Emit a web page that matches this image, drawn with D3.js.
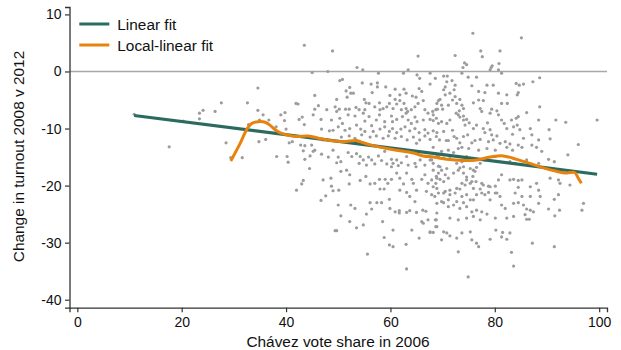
<!DOCTYPE html>
<html>
<head>
<meta charset="utf-8">
<script src="https://cdn.jsdelivr.net/npm/d3@7"></script>
<style>
  html, body { margin: 0; padding: 0; background: #fff; }
  svg { display: block; font-family: "Liberation Sans", Arial, Helvetica, sans-serif; }
</style>
</head>
<body>
<svg id="chart" width="621" height="350"></svg>
<script>
// Municipalities: Chávez vote share in 2006 (x) vs change in turnout 2008 v 2012 (y)
const pts = [
  [10.9,-7.5],[17.6,-13.2],[20.3,-8.7],[23.4,-7.3],[24.1,-6.8],[23.4,-8.3],[26.4,-7.0],[27.6,-5.5],[28.5,-12.5],[29.4,-15.1],
  [31.6,-15.1],[32.6,-5.5],[34.6,-2.9],[34.6,-6.8],[35.6,-7.6],[36.7,-8.5],[32.8,-9.3],[34.8,-12.3],[36.1,-11.9],[34.9,-8.5],
  [43.5,4.6],[48.9,3.6],[45.0,-0.2],[48.0,0.0],[65.3,2.7],[45.5,-4.2],[41.9,-5.6],[42.3,-5.7],[46.2,-6.0],[45.5,-6.6],
  [47.8,-6.7],[39.0,-7.6],[39.8,-7.2],[43.1,-8.0],[42.5,-8.4],[46.7,-8.4],[45.2,-7.6],[39.7,-8.6],[38.1,-9.7],[40.0,-10.1],
  [43.5,-9.3],[46.8,-10.1],[48.3,-10.4],[40.6,-12.5],[41.2,-12.3],[43.6,-13.0],[42.8,-12.9],[44.9,-12.9],[45.5,-13.8],[47.1,-12.0],
  [53.6,0.7],[54.7,0.3],[57.7,-0.3],[62.5,-0.3],[63.4,0.3],[65.1,-0.6],[65.6,-1.2],[67.6,-0.3],
  [50.3,-1.6],[50.8,-1.4],[54.6,-2.0],[56.3,-2.2],[57.5,-2.0],[57.5,-2.7],[52.2,-2.8],[51.5,-3.4],[52.4,-3.8],[52.9,-3.8],
  [51.7,-4.5],[59.1,-2.7],[60.9,-3.1],[62.6,-3.1],[67.6,-2.2],[65.5,-3.0],[66.0,-3.5],[56.5,-3.7],[59.9,-4.2],[60.9,-4.9],
  [61.8,-4.1],[63.0,-3.8],[64.2,-4.3],[64.9,-4.5],[66.3,-5.1],[49.7,-4.9],[69.2,-5.1],[55.0,-4.9],[55.3,-5.5],
  [49.4,-6.2],[50.2,-6.6],[49.7,-7.0],[51.4,-6.6],[52.1,-6.6],[53.4,-6.3],[54.0,-6.7],[55.1,-6.7],[55.9,-5.6],[57.0,-6.2],
  [57.9,-5.5],[58.0,-6.7],[58.6,-6.5],[59.3,-6.2],[59.8,-5.6],[60.5,-6.5],[61.2,-5.7],[61.8,-5.1],[62.6,-5.6],[63.0,-6.5],
  [63.3,-7.0],[64.0,-6.7],[64.7,-6.2],[65.3,-5.6],[66.6,-6.7],[67.2,-7.3],[68.2,-7.6],[68.7,-6.7],[62.1,-6.7],[63.0,-7.3],
  [48.7,-8.5],[50.3,-8.2],[50.8,-9.1],[51.9,-7.6],[53.2,-7.8],[54.8,-7.3],[55.1,-8.7],[55.9,-7.9],[57.3,-8.5],[57.9,-7.6],
  [58.9,-8.8],[60.2,-7.8],[60.4,-8.8],[61.2,-8.4],[62.3,-7.9],[63.4,-8.5],[64.7,-8.0],[65.1,-8.8],[66.3,-8.5],[67.6,-8.4],
  [68.8,-8.2],[64.0,-9.1],
  [49.0,-10.3],[50.0,-9.7],[51.3,-10.3],[52.2,-10.0],[53.5,-9.4],[54.3,-10.1],[55.1,-10.5],[56.4,-9.5],[56.7,-10.5],[58.0,-10.1],
  [58.9,-9.7],[59.8,-10.5],[60.4,-10.0],[61.2,-10.7],[62.0,-10.1],[62.8,-9.7],[63.7,-10.4],[64.7,-10.0],[65.5,-10.7],[66.6,-10.2],
  [67.2,-10.8],[68.2,-10.4],
  [50.6,-11.5],[52.1,-11.3],[53.2,-11.7],[54.5,-11.1],[56.1,-11.5],[57.3,-11.3],[58.6,-11.7],[59.6,-11.3],[60.9,-11.7],[62.1,-11.4],
  [63.2,-12.0],[64.4,-11.5],[65.6,-12.0],[66.6,-11.3],[67.6,-11.9],[68.8,-11.4],[65.0,-12.6],[49.0,-13.8],[58.9,-14.0],
  [75.8,6.7],[85.1,5.9],[72.4,2.8],[77.3,3.6],[77.6,2.6],[81.0,3.6],[88.6,-1.1],[88.6,-6.2],[91.7,-8.5],[93.6,-8.9],
  [99.6,-8.5],[90.4,-10.2],[90.6,-11.8],[96.0,-12.8],
  [73.9,0.7],[74.2,1.5],[74.6,1.2],[79.3,0.7],[79.5,1.0],[80.8,1.4],[73.7,-0.3],[79.1,0.3],[81.3,-0.3],[80.7,0.3],
  [68.6,-1.2],[70.2,-0.8],[70.9,-0.8],[71.8,-1.6],[70.8,-1.8],[72.4,-2.4],[72.2,-3.2],[70.5,-2.7],[70.2,-3.2],[70.5,-4.1],
  [69.5,-4.9],[68.9,-5.6],[69.8,-5.9],[68.1,-7.0],[69.0,-6.6],[70.0,-6.6],[71.1,-5.9],[71.9,-5.0],[72.7,-5.6],[73.3,-4.9],
  [73.7,-5.9],[74.0,-6.5],[73.2,-6.9],[72.6,-7.3],[73.3,-8.0],[74.0,-7.8],[74.0,-8.5],[74.6,-8.4],[75.1,-9.0],[75.9,-5.5],
  [76.9,-5.0],[77.2,-6.5],[77.5,-7.0],[77.8,-5.1],[78.1,-3.7],[76.9,-3.5],[75.6,-2.5],[74.9,-1.0],[76.5,-1.0],[78.5,-2.4],
  [79.7,-2.4],[80.7,-3.8],[81.3,-5.6],[82.4,-5.6],[84.1,-2.1],[84.7,-2.4],[84.5,-3.7],[84.3,-4.1],[85.5,-2.2],[87.3,-1.8],
  [82.3,-4.1],[78.6,-9.0],[79.1,-7.3],[79.4,-6.6],[80.4,-6.9],[80.7,-7.6],[81.3,-8.5],[81.8,-9.1],[83.2,-8.5],[84.1,-8.2],
  [84.5,-7.9],[84.3,-9.4],[83.6,-9.7],[82.3,-10.0],[83.4,-11.0],[84.8,-10.2],[86.1,-7.2],[86.8,-10.0],[88.4,-8.5],[87.1,-11.1],
  [88.4,-12.0],[85.5,-11.7],[87.1,-12.9],[88.0,-13.3],
  [68.2,-8.6],[69.2,-9.1],[69.8,-8.8],[70.2,-10.5],[68.9,-10.7],[69.4,-12.0],[70.7,-12.1],[71.1,-12.1],[71.9,-10.3],[72.2,-11.4],
  [72.7,-11.7],[73.3,-12.5],[73.7,-13.3],[73.0,-13.5],[74.0,-11.4],[74.8,-11.1],[75.6,-12.5],[76.2,-12.1],[77.2,-11.9],[77.8,-10.0],
  [78.1,-10.7],[79.1,-10.2],[79.4,-11.1],[79.7,-12.0],[78.8,-12.3],[80.4,-11.3],[81.0,-12.6],[82.0,-12.3],[82.9,-12.7],[75.0,-13.5],
  [76.9,-13.8],[78.5,-13.5],[80.1,-13.8],[82.3,-13.3],[83.4,-13.8],[84.5,-12.9],[85.2,-13.3],[68.2,-13.3],[69.8,-14.0],[71.1,-13.8],
  [72.1,-14.2],[72.4,-4.4],[71.4,-3.8],[73.0,-7.6],[71.4,-8.5],[70.8,-9.1],[74.3,-9.4],[75.9,-10.0],[76.5,-9.4],
  [38.2,-14.9],[40.2,-14.9],[40.4,-15.9],[43.3,-13.9],[43.6,-15.4],[44.6,-14.8],[45.2,-14.0],[46.8,-14.5],[48.1,-15.0],[50.0,-15.0],
  [49.7,-16.0],[50.5,-15.8],[51.9,-14.2],[52.6,-14.9],[53.5,-14.4],[54.2,-14.9],[54.0,-16.1],[54.8,-15.5],[55.8,-15.0],[55.4,-16.4],
  [56.4,-15.5],[57.0,-16.2],[57.7,-14.8],[58.3,-15.6],[59.3,-16.2],[60.2,-15.4],[60.5,-16.1],[61.2,-15.5],[61.5,-16.5],[60.2,-16.7],
  [62.1,-16.0],[63.1,-14.9],[63.4,-16.4],[64.7,-16.1],[64.9,-16.7],[65.7,-15.5],[66.6,-16.4],[67.6,-15.5],[68.2,-16.1],[69.2,-14.9],
  [44.5,-17.0],[50.5,-17.5],[51.6,-17.3],[52.2,-18.1],[47.1,-19.0],[48.6,-18.7],[43.3,-19.1],[43.0,-19.7],[42.0,-20.8],[48.7,-20.1],
  [49.0,-20.9],[50.1,-20.8],[46.7,-22.6],[47.6,-21.8],[52.1,-19.7],[54.2,-19.1],[55.3,-18.4],[56.1,-19.7],[57.0,-19.6],[57.9,-18.9],
  [59.0,-18.9],[59.5,-19.6],[58.0,-20.6],[58.8,-20.6],[60.2,-18.9],[61.2,-17.8],[61.8,-18.7],[62.5,-19.7],[61.8,-20.8],[63.1,-17.8],
  [64.1,-18.9],[64.4,-19.6],[65.0,-20.8],[66.0,-18.9],[66.6,-18.1],[67.2,-19.6],[66.9,-21.0],[68.2,-20.2],[68.8,-18.4],[68.5,-21.9],
  [63.1,-21.2],[63.7,-21.9],[64.7,-22.8],[50.0,-23.4],[52.4,-23.4],[53.2,-24.0],[56.1,-23.0],[57.4,-23.0],[58.3,-23.0],[59.8,-22.4],
  [59.9,-24.0],[60.9,-24.6],[61.7,-24.4],[61.7,-24.8],[63.1,-24.7],[63.7,-24.4],[65.0,-24.7],[66.2,-24.3],[66.8,-24.5],[67.2,-26.0],
  [66.0,-26.3],[66.3,-26.6],[68.8,-26.0],[55.4,-25.0],[56.4,-24.1],[50.5,-25.3],[52.2,-26.3],[53.5,-27.4],[54.8,-26.9],[49.4,-27.9],
  [49.7,-27.9],[58.5,-26.3],[60.5,-27.8],[58.8,-29.1],[59.8,-30.4],[60.5,-30.7],[63.0,-30.3],[64.1,-27.8],[65.5,-29.2],[67.6,-28.2],
  [68.2,-28.2],[68.7,-27.2],[55.6,-32.0],[63.1,-34.6],
  [67.9,-15.5],[68.9,-14.6],[70.2,-15.2],[71.4,-14.9],[73.7,-15.8],[74.6,-14.9],[75.9,-15.5],[77.2,-16.1],[78.1,-15.5],[80.1,-14.9],
  [82.9,-15.8],[83.9,-16.1],[86.1,-15.5],[88.4,-16.1],[89.0,-14.0],[90.3,-15.4],[91.4,-15.8],[94.0,-14.6],[68.2,-17.3],[69.2,-17.8],
  [69.5,-16.7],[70.8,-17.0],[70.5,-18.1],[68.9,-18.7],[67.9,-19.0],[70.2,-19.3],[71.1,-18.7],[72.1,-17.8],[73.0,-17.3],[74.0,-16.7],
  [75.3,-17.0],[76.2,-17.5],[75.8,-18.4],[74.6,-19.0],[73.7,-19.6],[72.7,-20.5],[71.4,-20.8],[70.2,-21.3],[68.9,-20.5],[67.9,-21.6],
  [75.3,-19.6],[76.4,-19.3],[77.5,-19.6],[78.8,-20.1],[80.1,-20.1],[80.7,-19.0],[81.3,-18.1],[82.9,-19.0],[83.6,-18.9],[84.5,-19.1],
  [85.2,-19.0],[84.5,-20.3],[83.9,-21.3],[85.2,-21.9],[86.8,-20.2],[88.0,-19.6],[88.4,-20.8],[86.8,-21.9],[88.7,-21.9],[88.4,-23.1],
  [90.6,-18.7],[92.2,-19.0],[92.5,-19.6],[94.4,-19.9],[92.2,-21.6],[91.4,-22.4],[92.4,-24.3],[91.5,-25.3],[90.3,-24.1],[97.0,-23.1],
  [96.7,-24.3],[72.4,-21.3],[73.7,-21.9],[74.6,-21.6],[75.9,-22.5],[77.5,-21.3],[78.8,-21.2],[80.1,-21.3],[79.1,-22.5],[81.0,-21.9],
  [81.3,-23.4],[82.0,-24.0],[83.6,-23.1],[84.5,-23.0],[85.5,-23.4],[86.1,-24.1],[86.8,-24.3],[87.4,-24.6],[85.8,-25.1],[86.1,-25.9],
  [86.6,-25.9],[83.6,-25.4],[82.3,-25.7],[80.1,-25.7],[68.9,-23.1],[70.2,-23.0],[71.1,-23.7],[72.1,-23.4],[73.3,-24.0],[74.6,-23.7],
  [75.6,-24.6],[76.5,-24.3],[77.5,-24.6],[78.5,-25.0],[77.2,-26.0],[75.9,-25.4],[74.6,-25.7],[73.0,-26.0],[71.4,-25.7],[68.9,-24.8],
  [68.6,-26.0],[68.9,-27.2],[70.2,-28.1],[70.8,-28.3],[71.4,-28.8],[69.8,-29.5],[72.7,-29.2],[73.7,-28.3],[75.3,-28.1],[75.6,-29.5],
  [76.9,-30.7],[76.5,-30.1],[79.1,-29.4],[80.2,-27.8],[81.5,-28.2],[81.3,-29.0],[82.3,-29.4],[82.9,-28.3],[83.2,-31.7],[83.6,-34.1],
  [73.0,-31.6],[74.9,-36.0],[87.2,-30.1],[91.4,-30.7],[67.6,-28.1],
  [69.2,-16.6],[69.8,-17.3],[69.5,-18.9],[68.7,-19.6],[72.7,-16.1],[73.3,-16.9],[74.0,-17.8],[74.6,-18.5],[75.9,-17.3],[76.5,-16.8],
  [75.6,-19.3],[74.3,-19.9],[73.3,-20.6],[71.4,-21.6],[70.5,-21.0],[69.2,-21.3],[75.9,-20.5],[77.2,-20.6],[77.8,-19.9],[79.1,-20.2],
  [80.4,-21.3],[78.1,-21.6],[76.5,-21.6],[75.3,-22.5],[74.0,-23.0],[72.7,-22.8],[71.1,-22.5],[69.8,-22.8]
];
const shareX = pts.map(d => d[0]);
const turnoutY = pts.map(d => d[1]);

// Linear fit end points
const linX = [10.9, 99.6];
const linY = [-7.7, -18.0];

// Local-linear (lowess-type) fit
const locX = [29.4,31.2,32.5,33.4,34.7,36.0,36.9,37.9,38.8,40.1,42.0,44.3,46.2,48.4,51.0,53.5,54.8,56.7,59.3,61.8,
              64.4,66.3,68.2,70.8,73.9,76.5,79.1,81.6,84.2,86.7,89.3,91.8,93.8,95.3,96.0,96.6];
const locY = [-15.7,-12.6,-10.1,-9.1,-8.8,-8.9,-9.4,-10.2,-10.7,-11.1,-11.4,-11.3,-11.7,-12.1,-12.3,-12.1,-12.5,-13.0,-13.5,-13.9,
              -14.3,-14.8,-15.0,-15.4,-15.6,-15.5,-15.0,-14.8,-15.4,-16.1,-16.9,-17.5,-17.8,-17.7,-18.7,-19.6];

const xTicks = [0, 20, 40, 60, 80, 100];
const yTicks = [10, 0, -10, -20, -30, -40];
const legendLabels = ["Linear fit", "Local-linear fit"];

const green = "#2b6b5f", orange = "#e8820c", dotCol = "#9c9c9c";
const FONT = '"Liberation Sans", Arial, sans-serif';

const svg = d3.select("#chart");
const x = d3.scaleLinear().domain([-1.5, 101.5]).range([69.5, 607]);
const y = d3.scaleLinear().domain([-41.4, 11.3]).range([307.7, 7]);

// zero reference line
svg.append("line")
  .attr("x1", x(-1.5)).attr("x2", x(101.5))
  .attr("y1", y(0)).attr("y2", y(0))
  .attr("stroke", "#a8a8a8").attr("stroke-width", 1.4);

// scatter
svg.append("g").selectAll("circle")
  .data(d3.range(shareX.length))
  .join("circle")
  .attr("cx", i => x(shareX[i]))
  .attr("cy", i => y(turnoutY[i]))
  .attr("r", 1.6)
  .attr("fill", dotCol);

const line = d3.line().x(d => x(d[0])).y(d => y(d[1]));

svg.append("path")
  .datum(linX.map((v, i) => [v, linY[i]]))
  .attr("d", line)
  .attr("fill", "none").attr("stroke", green).attr("stroke-width", 3);

svg.append("path")
  .datum(locX.map((v, i) => [v, locY[i]]))
  .attr("d", line.curve(d3.curveCatmullRom))
  .attr("fill", "none").attr("stroke", orange).attr("stroke-width", 3)
  .attr("stroke-linejoin", "round");

// axes (plain hyphen for negative labels)
const fmt = d => String(d);
const xAxis = svg.append("g").attr("transform", `translate(0,${y(-41.4)})`)
  .call(d3.axisBottom(x).tickValues(xTicks).tickSize(4.5).tickPadding(5).tickFormat(fmt));
const yAxis = svg.append("g").attr("transform", `translate(${x(-1.5)},0)`)
  .call(d3.axisLeft(y).tickValues(yTicks).tickSize(4.5).tickPadding(3.5).tickFormat(fmt));
[xAxis, yAxis].forEach(g => {
  g.select(".domain").attr("stroke", "#333").attr("stroke-width", 1.3);
  g.selectAll(".tick line").attr("stroke", "#333").attr("stroke-width", 1.2);
  g.selectAll("text").attr("font-size", 14).attr("fill", "#111").attr("font-family", FONT);
});

// axis titles
svg.append("text")
  .attr("x", 338).attr("y", 346.5)
  .attr("text-anchor", "middle").attr("font-size", 15.4).attr("fill", "#111")
  .text("Chávez vote share in 2006");
svg.append("text")
  .attr("transform", "translate(23.5,156.5) rotate(-90)")
  .attr("text-anchor", "middle").attr("font-size", 15.4).attr("fill", "#111")
  .text("Change in turnout 2008 v 2012");

// legend
const lg = svg.append("g");
[green, orange].forEach((c, i) => {
  const yy = 24 + i * 21;
  lg.append("line").attr("x1", 79.3).attr("x2", 109.3).attr("y1", yy).attr("y2", yy)
    .attr("stroke", c).attr("stroke-width", 3);
  lg.append("text").attr("x", 117.3).attr("y", yy + 6.3)
    .attr("font-size", 15.4).attr("fill", "#111").text(legendLabels[i]);
});
</script>
</body>
</html>
